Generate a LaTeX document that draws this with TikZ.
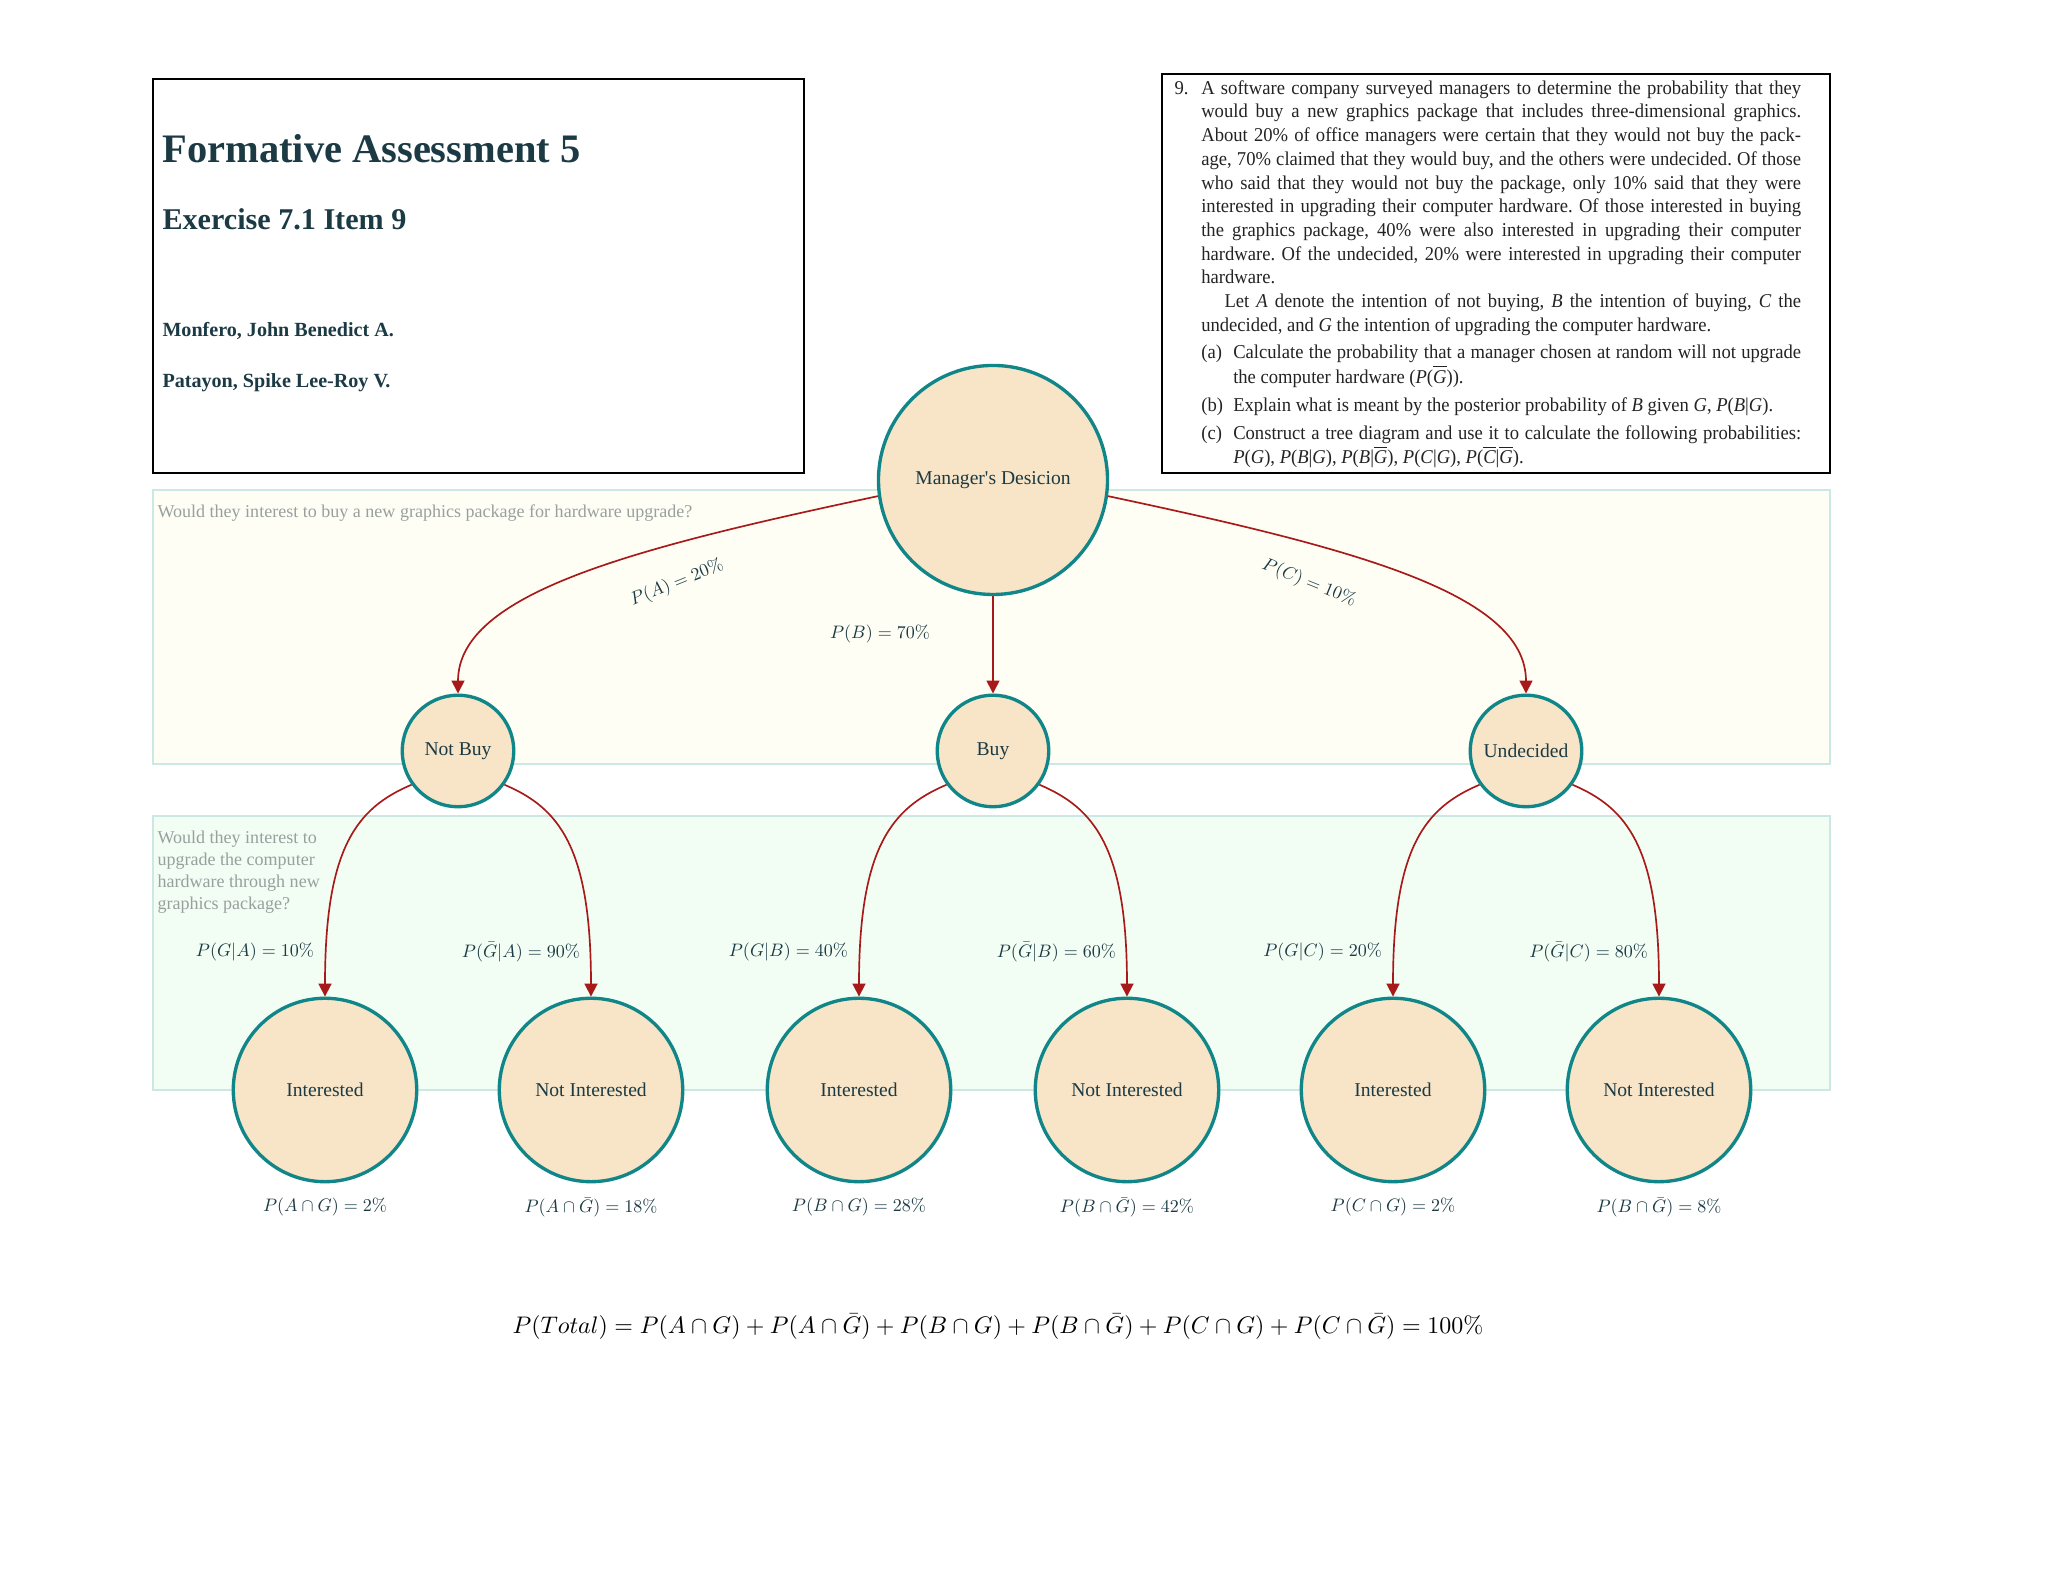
\documentclass[tikz,border=0pt]{standalone}
\usepackage[no-math]{fontspec}
\usepackage{graphicx}
\setmainfont{Liberation Serif}
\newfontfamily\probfont[FakeStretch=0.95]{Liberation Serif}
\usetikzlibrary{arrows.meta,positioning}

\definecolor{inkteal}{RGB}{27,58,68}
\definecolor{ringteal}{RGB}{16,134,136}
\definecolor{wheatfill}{RGB}{248,228,199}
\definecolor{arrowred}{RGB}{168,26,26}
\definecolor{bandedge}{RGB}{204,232,228}
\definecolor{bandyellow}{RGB}{254,254,245}
\definecolor{bandgreen}{RGB}{242,253,244}
\definecolor{askgray}{RGB}{152,160,158}
\definecolor{scanink}{RGB}{35,35,35}

\newcommand\olg[1]{$\overline{\mbox{\itshape #1}}$}
\newcommand\pmath[1]{\scalebox{0.7}{$#1$}}

\begin{document}
\begin{tikzpicture}[
       x=0.0136426cm, y=0.0136426cm,
       choice/.style={
         circle,
         draw=ringteal,
         fill=wheatfill,
         line width=1.3pt,
         inner sep=1pt,
         text=inkteal,
         font=\fontsize{7.6pt}{9pt}\selectfont
       },
       root/.style={choice, minimum size=88.9pt},
       branch/.style={choice, minimum size=43.3pt},
       leaf/.style={choice, minimum size=71.2pt},
       prob/.style={text=inkteal, inner sep=1pt, font=\fontsize{10pt}{12pt}\selectfont},
       flow/.style={draw=arrowred, line width=0.65pt, -{Triangle[length=5pt,width=5pt]}},
       band/.style={draw=bandedge, line width=0.8pt},
       ask/.style={text=askgray, inner sep=0pt, align=left, font=\fontsize{7pt}{8.6pt}\selectfont},
       heading/.style={text=inkteal, inner sep=0pt, anchor=base west}
     ]

       \useasboundingbox (0,0) rectangle (2048,1583);

       % question bands
       \draw[band, fill=bandyellow] (153,1093) rectangle (1830,819);
       \draw[band, fill=bandgreen] (153,767) rectangle (1830,493);
       \node[ask, anchor=west] (ask1) at (157,1070) {Would they interest to buy a new graphics package for hardware upgrade?};
       \node[ask, anchor=north west] (ask2) at (157,753) {Would they interest to\\upgrade the computer\\hardware through new\\graphics package?};

       % title box
       \draw[line width=0.8pt] (153,1504) rectangle (804,1110);
       \node[heading, font=\bfseries\fontsize{15.7pt}{18pt}\selectfont] (title) at (162,1420) {Formative Assessment 5};
       \node[heading, font=\bfseries\fontsize{11.7pt}{14pt}\selectfont] (item) at (162,1353) {Exercise 7.1 Item 9};
       \node[heading, font=\bfseries\fontsize{7.8pt}{9pt}\selectfont] (name1) at (162,1246) {Monfero, John Benedict A.};
       \node[heading, font=\bfseries\fontsize{7.8pt}{9pt}\selectfont] (name2) at (162,1195) {Patayon, Spike Lee-Roy V.};

       % problem box
       \draw[line width=0.8pt] (1162,1509) rectangle (1830,1110);
       \node[anchor=north west, inner sep=0pt, text=scanink] (task) at (1174,1503) {\begin{minipage}{243.2pt}
         \probfont\fontsize{7.6pt}{9.2pt}\selectfont\parindent=0pt\parskip=0pt\frenchspacing
         \hangindent=10.4pt\hangafter=0\noindent\llap{\makebox[10.4pt][l]{9.}}A software company surveyed managers to determine the probability that they\linebreak
         would buy a new graphics package that includes three-dimensional graphics.\linebreak
         About 20\% of office managers were certain that they would not buy the pack-\linebreak
         age, 70\% claimed that they would buy, and the others were undecided. Of those\linebreak
         who said that they would not buy the package, only 10\% said that they were\linebreak
         interested in upgrading their computer hardware. Of those interested in buying\linebreak
         the graphics package, 40\% were also interested in upgrading their computer\linebreak
         hardware. Of the undecided, 20\% were interested in upgrading their computer\linebreak
         hardware.\par
         \hangindent=10.4pt\hangafter=0\noindent\hskip9pt Let \textit{A} denote the intention of not buying, \textit{B} the intention of buying, \textit{C} the\linebreak
         undecided, and \textit{G} the intention of upgrading the computer hardware.\par
         \fontsize{7.6pt}{9.6pt}\selectfont\vskip1pt
         \hangindent=22.8pt\hangafter=0\noindent\llap{\makebox[12.4pt][l]{(a)}}Calculate the probability that a manager chosen at random will not upgrade\linebreak
         the computer hardware (\textit{P}(\olg{G})).\par\vskip1.2pt
         \hangindent=22.8pt\hangafter=0\noindent\llap{\makebox[12.4pt][l]{(b)}}Explain what is meant by the posterior probability of \textit{B} given \textit{G}, \textit{P}(\textit{B}|\textit{G}).\par\vskip1.2pt
         \hangindent=22.8pt\hangafter=0\noindent\llap{\makebox[12.4pt][l]{(c)}}Construct a tree diagram and use it to calculate the following probabilities:\linebreak
         \textit{P}(\textit{G}), \textit{P}(\textit{B}|\textit{G}), \textit{P}(\textit{B}|\olg{G}), \textit{P}(\textit{C}|\textit{G}), \textit{P}(\olg{C}|\olg{G}).\par
       \end{minipage}};

       % tree
       \node[root] (mgr) at (993,1103) {Manager\textquotesingle s Desicion};

       \node[branch] (nb) at (458,832) {Not Buy};
       \node[branch] (buy) at (993,832) {Buy};
       \node[branch] (und) at (1526,832) {Undecided};

       \node[leaf] (i1) at (325,493) {Interested};
       \node[leaf] (n1) at (591,493) {Not Interested};
       \node[leaf] (i2) at (859,493) {Interested};
       \node[leaf] (n2) at (1127,493) {Not Interested};
       \node[leaf] (i3) at (1393,493) {Interested};
       \node[leaf] (n3) at (1659,493) {Not Interested};

       \draw[flow] (mgr.188) to[out=192, in=90, out distance=97pt, in distance=39pt] (nb);
       \draw[flow] (mgr) -- (buy);
       \draw[flow] (mgr.-8) to[out=-12, in=90, out distance=97pt, in distance=39pt] (und);

       \draw[flow] (nb.216) to[out=203, in=90, out distance=23pt, in distance=58pt] (i1);
       \draw[flow] (nb.-36) to[out=-23, in=90, out distance=23pt, in distance=58pt] (n1);
       \draw[flow] (buy.216) to[out=203, in=90, out distance=23pt, in distance=58pt] (i2);
       \draw[flow] (buy.-36) to[out=-23, in=90, out distance=23pt, in distance=58pt] (n2);
       \draw[flow] (und.216) to[out=203, in=90, out distance=23pt, in distance=58pt] (i3);
       \draw[flow] (und.-36) to[out=-23, in=90, out distance=23pt, in distance=58pt] (n3);

       % branch probabilities
       \node[prob, rotate=22] (pa) at (677,1000) {\pmath{P(A) = 20\%}};
       \node[prob] (pb) at (880,949) {\pmath{P(B) = 70\%}};
       \node[prob, rotate=-22] (pc) at (1309,1000) {\pmath{P(C) = 10\%}};

       \node[prob, anchor=east] (pga) at (317,631) {\pmath{P(G|A) = 10\%}};
       \node[prob, anchor=east] (pna) at (583,631) {\pmath{P(\bar{G}|A) = 90\%}};
       \node[prob, anchor=east] (pgb) at (851,631) {\pmath{P(G|B) = 40\%}};
       \node[prob, anchor=east] (pnb) at (1119,631) {\pmath{P(\bar{G}|B) = 60\%}};
       \node[prob, anchor=east] (pgc) at (1385,631) {\pmath{P(G|C) = 20\%}};
       \node[prob, anchor=east] (pnc) at (1651,631) {\pmath{P(\bar{G}|C) = 80\%}};

       % joint probabilities
       \node[prob, below=4.5pt of i1] (ag) {\pmath{P(A\cap G) = 2\%}};
       \node[prob, below=4.5pt of n1] (an) {\pmath{P(A\cap \bar{G}) = 18\%}};
       \node[prob, below=4.5pt of i2] (bg) {\pmath{P(B\cap G) = 28\%}};
       \node[prob, below=4.5pt of n2] (bn) {\pmath{P(B\cap \bar{G}) = 42\%}};
       \node[prob, below=4.5pt of i3] (cg) {\pmath{P(C\cap G) = 2\%}};
       \node[prob, below=4.5pt of n3] (cn) {\pmath{P(B\cap \bar{G}) = 8\%}};

       \node (total) at (998,256) {\scalebox{0.93}{$P(Total) = P(A\cap G) + P(A\cap \bar{G}) + P(B\cap G) + P(B\cap \bar{G}) + P(C\cap G) + P(C\cap \bar{G}) = 100\%$}};

\end{tikzpicture}
\end{document}
